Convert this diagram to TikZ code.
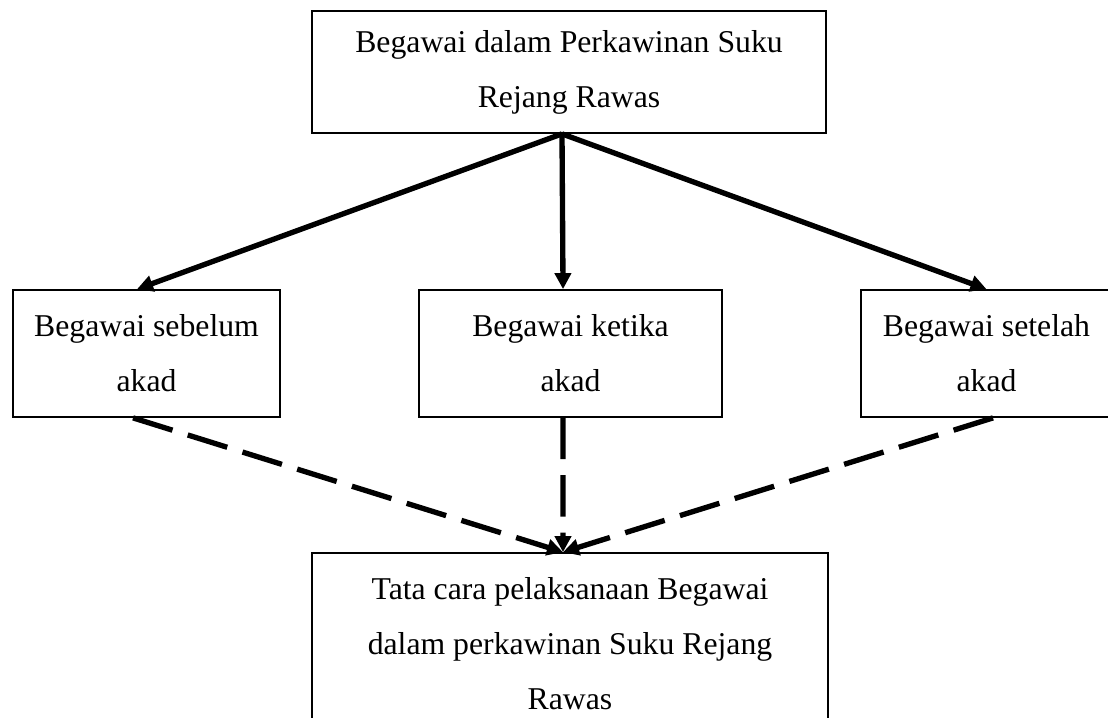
\documentclass[tikz,border=0pt]{standalone}
\usepackage{fontspec}
\setmainfont{Liberation Serif}
\usetikzlibrary{arrows.meta}
\begin{document}
\begin{tikzpicture}[x=0.75pt,y=-0.75pt,
 box/.style={draw, line width=1.3pt, rectangle, align=center, inner sep=0pt, font=\fontsize{23.8}{41.25}\selectfont},
 solidarrow/.style={line width=4pt, -{Triangle[length=12pt,width=12pt]}},
 dasharrow/.style={line width=4pt, dash pattern=on 31pt off 12pt, -{Triangle[length=12pt,width=12pt]}}]
\useasboundingbox (0,0) rectangle (1108,718);
\clip (0,0) rectangle (1108,718);
\fill[white] (0,0) rectangle (1108,718);
\node[box, minimum width=385.5pt, minimum height=91.5pt] (T) at (569,72) {Begawai dalam Perkawinan Suku\\Rejang Rawas};
\node[box, minimum width=200.25pt, minimum height=95.25pt] (L) at (146.5,353.5) {Begawai sebelum\\akad};
\node[box, minimum width=227.25pt, minimum height=95.25pt] (M) at (570.5,353.5) {Begawai ketika\\akad};
\node[box, minimum width=188.25pt, minimum height=95.25pt] (R) at (986.5,353.5) {Begawai setelah\\akad};
\node[box, minimum width=387pt, minimum height=136.5pt] (B) at (570,644) {Tata cara pelaksanaan Begawai\\dalam perkawinan Suku Rejang\\Rawas};
\coordinate (Ts) at ([xshift=-5.25pt]T.south);
\coordinate (Ln) at ([xshift=-7.1pt]L.north);
\coordinate (Mn) at ([xshift=-5.6pt]M.north);
\coordinate (Rn) at (R.north);
\coordinate (Ls) at ([xshift=-10.1pt]L.south);
\coordinate (Ms) at ([xshift=-5.6pt]M.south);
\coordinate (Rs) at ([xshift=4.9pt]R.south);
\coordinate (Bn) at ([xshift=-5.25pt]B.north);
\draw[solidarrow] (Ts) -- (Ln);
\draw[solidarrow] (Ts) -- (Mn);
\draw[solidarrow] (Ts) -- (Rn);
\draw[dasharrow] (Ls) -- (Bn);
\draw[dasharrow] (Ms) -- (Bn);
\draw[dasharrow] (Rs) -- (Bn);
\end{tikzpicture}
\end{document}
